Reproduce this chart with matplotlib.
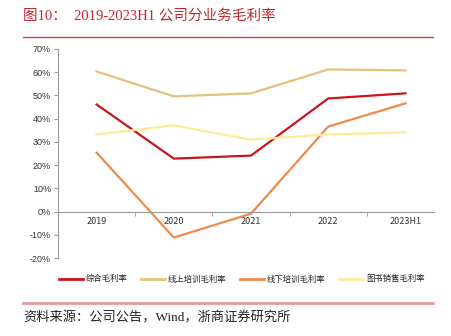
import matplotlib
matplotlib.use("Agg")
import matplotlib.pyplot as plt
from matplotlib.lines import Line2D
from matplotlib.ticker import FixedLocator, FuncFormatter

plt.rcParams['font.family'] = ['Noto Sans CJK SC', 'DejaVu Sans']

# data
years = ['2019', '2020', '2021', '2022', '2023H1']
total = [46.1, 22.8, 24.1, 48.7, 50.9]
online = [60.3, 49.6, 50.9, 61.2, 60.8]
offline = [25.4, -11.2, -0.9, 36.6, 46.6]
books = [33.2, 37.1, 31.0, 33.2, 34.1]
names = ['综合毛利率', '线上培训毛利率', '线下培训毛利率', '图书销售毛利率']
colors = ['#C8161D', '#E3C27B', '#F08A4B', '#FCEB9A']

W, H = 451, 336
fig = plt.figure(figsize=(W / 100, H / 100), dpi=100)
ax = fig.add_axes([58/W, 78/H, 376/W, 209/H])

x = range(len(years))
for vals, c in zip([total, online, offline, books], colors):
    ax.plot(x, vals, color=c, lw=1.6)

ax.set_ylim(-20, 70)
ax.set_xlim(-0.5, 4.37)
ax.set_yticks(range(-20, 71, 10))
ax.yaxis.set_major_formatter(FuncFormatter(lambda v, p: '%d%%' % v))
ax.set_xticks(list(x))
ax.set_xticklabels(years)
ax.xaxis.set_minor_locator(FixedLocator([0.5, 1.5, 2.5, 3.5]))
ax.tick_params(axis='x', which='major', length=0, pad=4, labelsize=6.5, colors='#333333')
ax.tick_params(axis='x', which='minor', length=3, color='#999999')
ax.tick_params(axis='y', length=3, color='#999999', labelsize=6.5, labelcolor='#333333', pad=2)
for lab in ax.get_xticklabels() + ax.get_yticklabels():
    lab.set_family(['Liberation Sans', 'DejaVu Sans'])
for s in ['top', 'right']:
    ax.spines[s].set_visible(False)
ax.spines['bottom'].set_position(('data', 0))
ax.spines['bottom'].set_color('#999999')
ax.spines['left'].set_color('#999999')

# title, rules and source
serif = ['Liberation Serif', 'Noto Sans CJK SC']
fig.text(23/W, 1 - 16/H, '图10：  2019-2023H1 公司分业务毛利率', color='#C0282E',
         fontsize=10.5, va='center', ha='left', family=serif)
fig.add_artist(Line2D([23/W, 433/W], [1 - 37/H] * 2, color='#D9363E', lw=1.0))
fig.add_artist(Line2D([23/W, 433/W], [1 - 303/H] * 2, color='#E59A9C', lw=2.0))
fig.text(23/W, 1 - 318/H, '资料来源：公司公告，Wind，浙商证券研究所', color='#222222',
         fontsize=9.5, va='center', ha='left', family=serif)

# legend drawn by hand
leg_x = [59, 141, 240, 339]
ly = 1 - 279/H
for lx, c, n in zip(leg_x, colors, names):
    fig.add_artist(Line2D([lx/W, (lx + 24)/W], [ly, ly], color=c, lw=2))
    fig.text((lx + 27)/W, ly, n, fontsize=6, va='center', ha='left', color='#222222')

fig.savefig('out.png', dpi=100)
